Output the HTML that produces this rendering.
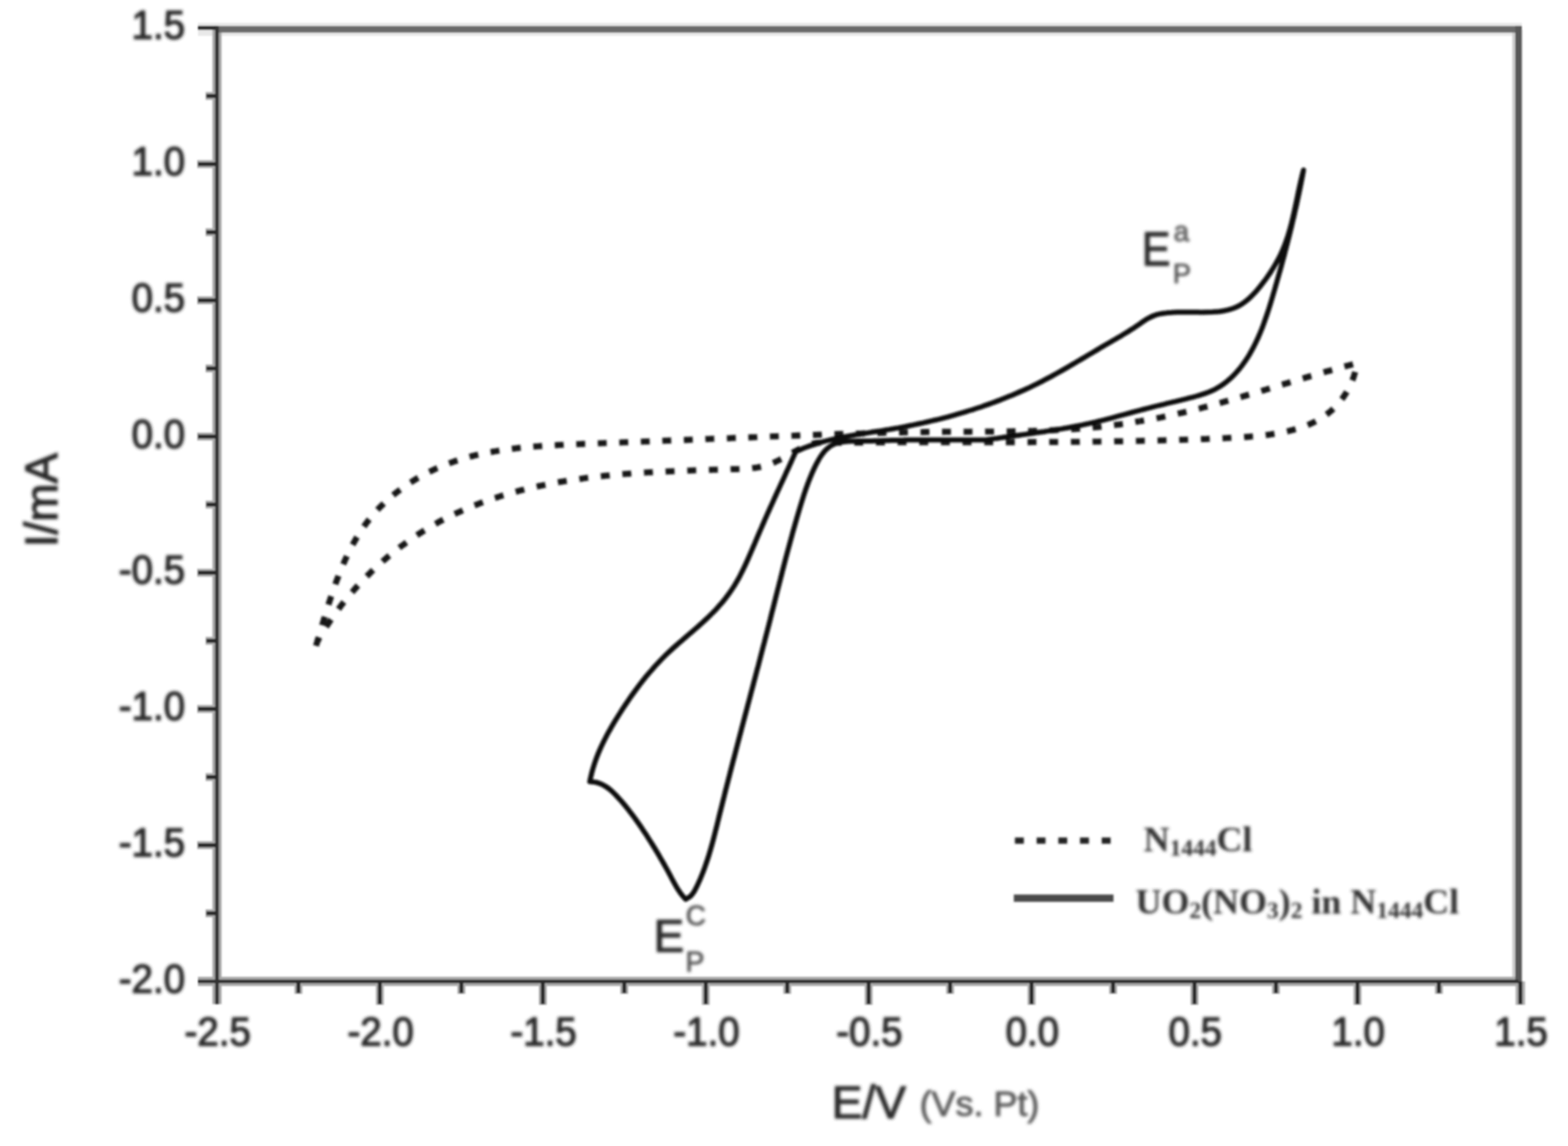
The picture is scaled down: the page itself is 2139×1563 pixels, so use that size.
<!DOCTYPE html>
<html lang="en">
<head>
<meta charset="utf-8">
<title>Cyclic voltammogram</title>
<style>
html,body{margin:0;padding:0;background:#fff;}
body{width:2139px;height:1563px;overflow:hidden;}
svg{display:block;}
text{font-family:"Liberation Sans",sans-serif;stroke-linejoin:round;}
.tk{font-size:52.5px;fill:#282828;stroke:#282828;stroke-width:1.6;}
.ser{font-family:"Liberation Serif",serif;font-weight:bold;}
</style>
</head>
<body>
<svg width="2139" height="1563" viewBox="0 0 2139 1563">
<defs>
<filter id="ba" filterUnits="userSpaceOnUse" x="0" y="0" width="2139" height="1563"><feGaussianBlur stdDeviation="0.9"/></filter>
<filter id="bc" filterUnits="userSpaceOnUse" x="0" y="0" width="2139" height="1563"><feGaussianBlur stdDeviation="1.8"/></filter>
<filter id="bt" filterUnits="userSpaceOnUse" x="0" y="0" width="2139" height="1563"><feGaussianBlur stdDeviation="2.0"/></filter>
<filter id="bl" filterUnits="userSpaceOnUse" x="0" y="0" width="2139" height="1563"><feGaussianBlur stdDeviation="2.0"/></filter>
</defs>
<rect x="0" y="0" width="2139" height="1563" fill="#fff"/>
<g filter="url(#ba)" fill="none" stroke-linecap="butt">
<line x1="270.0" y1="40.0" x2="2076.0" y2="40.0" stroke="#e9e9e9" stroke-width="18"/>
<line x1="2070.0" y1="40.0" x2="2070.0" y2="1340.5" stroke="#cdcdcd" stroke-width="14"/>
<line x1="2074.0" y1="1338.5" x2="2074.0" y2="1370.5" stroke="#b0b0b0" stroke-width="13"/>
<line x1="296.0" y1="38.0" x2="296.0" y2="1369.5" stroke="#a8a8a8" stroke-width="12.5"/>
<line x1="270.0" y1="1338.5" x2="2071.5" y2="1338.5" stroke="#a8a8a8" stroke-width="12.5"/>
<line x1="407.1" y1="1338.5" x2="407.1" y2="1355.5" stroke="#b0b0b0" stroke-width="11"/>
<line x1="518.2" y1="1338.5" x2="518.2" y2="1370.5" stroke="#b0b0b0" stroke-width="11"/>
<line x1="629.4" y1="1338.5" x2="629.4" y2="1355.5" stroke="#b0b0b0" stroke-width="11"/>
<line x1="740.5" y1="1338.5" x2="740.5" y2="1370.5" stroke="#b0b0b0" stroke-width="11"/>
<line x1="851.6" y1="1338.5" x2="851.6" y2="1355.5" stroke="#b0b0b0" stroke-width="11"/>
<line x1="962.8" y1="1338.5" x2="962.8" y2="1370.5" stroke="#b0b0b0" stroke-width="11"/>
<line x1="1073.9" y1="1338.5" x2="1073.9" y2="1355.5" stroke="#b0b0b0" stroke-width="11"/>
<line x1="1185.0" y1="1338.5" x2="1185.0" y2="1370.5" stroke="#b0b0b0" stroke-width="11"/>
<line x1="1296.1" y1="1338.5" x2="1296.1" y2="1355.5" stroke="#b0b0b0" stroke-width="11"/>
<line x1="1407.2" y1="1338.5" x2="1407.2" y2="1370.5" stroke="#b0b0b0" stroke-width="11"/>
<line x1="1518.4" y1="1338.5" x2="1518.4" y2="1355.5" stroke="#b0b0b0" stroke-width="11"/>
<line x1="1629.5" y1="1338.5" x2="1629.5" y2="1370.5" stroke="#b0b0b0" stroke-width="11"/>
<line x1="1740.6" y1="1338.5" x2="1740.6" y2="1355.5" stroke="#b0b0b0" stroke-width="11"/>
<line x1="1851.8" y1="1338.5" x2="1851.8" y2="1370.5" stroke="#b0b0b0" stroke-width="11"/>
<line x1="1962.9" y1="1338.5" x2="1962.9" y2="1355.5" stroke="#b0b0b0" stroke-width="11"/>
<line x1="280.5" y1="130.9" x2="296.0" y2="130.9" stroke="#b0b0b0" stroke-width="11"/>
<line x1="269.0" y1="223.8" x2="296.0" y2="223.8" stroke="#b0b0b0" stroke-width="11"/>
<line x1="280.5" y1="316.7" x2="296.0" y2="316.7" stroke="#b0b0b0" stroke-width="11"/>
<line x1="269.0" y1="409.6" x2="296.0" y2="409.6" stroke="#b0b0b0" stroke-width="11"/>
<line x1="280.5" y1="502.5" x2="296.0" y2="502.5" stroke="#b0b0b0" stroke-width="11"/>
<line x1="269.0" y1="595.4" x2="296.0" y2="595.4" stroke="#b0b0b0" stroke-width="11"/>
<line x1="280.5" y1="688.2" x2="296.0" y2="688.2" stroke="#b0b0b0" stroke-width="11"/>
<line x1="269.0" y1="781.1" x2="296.0" y2="781.1" stroke="#b0b0b0" stroke-width="11"/>
<line x1="280.5" y1="874.0" x2="296.0" y2="874.0" stroke="#b0b0b0" stroke-width="11"/>
<line x1="269.0" y1="966.9" x2="296.0" y2="966.9" stroke="#b0b0b0" stroke-width="11"/>
<line x1="280.5" y1="1059.8" x2="296.0" y2="1059.8" stroke="#b0b0b0" stroke-width="11"/>
<line x1="269.0" y1="1152.7" x2="296.0" y2="1152.7" stroke="#b0b0b0" stroke-width="11"/>
<line x1="280.5" y1="1245.6" x2="296.0" y2="1245.6" stroke="#b0b0b0" stroke-width="11"/>
<line x1="296.0" y1="40.0" x2="2076.0" y2="40.0" stroke="#6a6a6a" stroke-width="9"/>
<line x1="270.0" y1="38.0" x2="296.0" y2="38.0" stroke="#2a2a2a" stroke-width="5.5"/>
<line x1="2071.5" y1="35.5" x2="2071.5" y2="1341.0" stroke="#585858" stroke-width="9"/>
<line x1="2074.0" y1="1338.5" x2="2074.0" y2="1369.5" stroke="#2a2a2a" stroke-width="5.5"/>
<line x1="296.0" y1="35.5" x2="296.0" y2="1369.5" stroke="#303030" stroke-width="5"/>
<line x1="270.0" y1="1338.5" x2="2071.5" y2="1338.5" stroke="#303030" stroke-width="5"/>
<line x1="407.1" y1="1338.5" x2="407.1" y2="1354.5" stroke="#2a2a2a" stroke-width="5.5"/>
<line x1="518.2" y1="1338.5" x2="518.2" y2="1369.5" stroke="#2a2a2a" stroke-width="5.5"/>
<line x1="629.4" y1="1338.5" x2="629.4" y2="1354.5" stroke="#2a2a2a" stroke-width="5.5"/>
<line x1="740.5" y1="1338.5" x2="740.5" y2="1369.5" stroke="#2a2a2a" stroke-width="5.5"/>
<line x1="851.6" y1="1338.5" x2="851.6" y2="1354.5" stroke="#2a2a2a" stroke-width="5.5"/>
<line x1="962.8" y1="1338.5" x2="962.8" y2="1369.5" stroke="#2a2a2a" stroke-width="5.5"/>
<line x1="1073.9" y1="1338.5" x2="1073.9" y2="1354.5" stroke="#2a2a2a" stroke-width="5.5"/>
<line x1="1185.0" y1="1338.5" x2="1185.0" y2="1369.5" stroke="#2a2a2a" stroke-width="5.5"/>
<line x1="1296.1" y1="1338.5" x2="1296.1" y2="1354.5" stroke="#2a2a2a" stroke-width="5.5"/>
<line x1="1407.2" y1="1338.5" x2="1407.2" y2="1369.5" stroke="#2a2a2a" stroke-width="5.5"/>
<line x1="1518.4" y1="1338.5" x2="1518.4" y2="1354.5" stroke="#2a2a2a" stroke-width="5.5"/>
<line x1="1629.5" y1="1338.5" x2="1629.5" y2="1369.5" stroke="#2a2a2a" stroke-width="5.5"/>
<line x1="1740.6" y1="1338.5" x2="1740.6" y2="1354.5" stroke="#2a2a2a" stroke-width="5.5"/>
<line x1="1851.8" y1="1338.5" x2="1851.8" y2="1369.5" stroke="#2a2a2a" stroke-width="5.5"/>
<line x1="1962.9" y1="1338.5" x2="1962.9" y2="1354.5" stroke="#2a2a2a" stroke-width="5.5"/>
<line x1="281.5" y1="130.9" x2="296.0" y2="130.9" stroke="#2a2a2a" stroke-width="5.5"/>
<line x1="270.0" y1="223.8" x2="296.0" y2="223.8" stroke="#2a2a2a" stroke-width="5.5"/>
<line x1="281.5" y1="316.7" x2="296.0" y2="316.7" stroke="#2a2a2a" stroke-width="5.5"/>
<line x1="270.0" y1="409.6" x2="296.0" y2="409.6" stroke="#2a2a2a" stroke-width="5.5"/>
<line x1="281.5" y1="502.5" x2="296.0" y2="502.5" stroke="#2a2a2a" stroke-width="5.5"/>
<line x1="270.0" y1="595.4" x2="296.0" y2="595.4" stroke="#2a2a2a" stroke-width="5.5"/>
<line x1="281.5" y1="688.2" x2="296.0" y2="688.2" stroke="#2a2a2a" stroke-width="5.5"/>
<line x1="270.0" y1="781.1" x2="296.0" y2="781.1" stroke="#2a2a2a" stroke-width="5.5"/>
<line x1="281.5" y1="874.0" x2="296.0" y2="874.0" stroke="#2a2a2a" stroke-width="5.5"/>
<line x1="270.0" y1="966.9" x2="296.0" y2="966.9" stroke="#2a2a2a" stroke-width="5.5"/>
<line x1="281.5" y1="1059.8" x2="296.0" y2="1059.8" stroke="#2a2a2a" stroke-width="5.5"/>
<line x1="270.0" y1="1152.7" x2="296.0" y2="1152.7" stroke="#2a2a2a" stroke-width="5.5"/>
<line x1="281.5" y1="1245.6" x2="296.0" y2="1245.6" stroke="#2a2a2a" stroke-width="5.5"/>
</g>
<g filter="url(#bc)" fill="none" stroke-linejoin="round" stroke-linecap="butt">
<path d="M431.1 880.9 L432.8 875.1C433.2 873.9 434.3 870.2 435.0 867.7C435.8 865.2 436.5 862.7 437.3 860.2C438.0 857.7 438.8 855.2 439.5 852.7C440.3 850.1 441.0 847.6 441.8 845.0C442.6 842.5 443.3 839.9 444.1 837.3C444.9 834.8 445.7 832.2 446.5 829.6C447.3 827.0 448.2 824.4 449.0 821.8C449.8 819.2 450.7 816.7 451.5 814.1C452.4 811.5 453.3 808.9 454.1 806.3C455.0 803.7 455.9 801.1 456.9 798.5C457.8 796.0 458.7 793.4 459.7 790.8C460.7 788.2 461.6 785.7 462.6 783.1C463.6 780.6 464.7 778.0 465.7 775.5C466.8 773.0 467.8 770.5 468.9 768.0C470.0 765.5 471.1 763.0 472.3 760.5C473.4 758.0 474.6 755.6 475.8 753.2C477.0 750.7 478.3 748.3 479.5 745.9C480.8 743.5 482.1 741.1 483.4 738.8C484.7 736.5 486.1 734.1 487.5 731.8C488.9 729.5 490.3 727.3 491.7 725.0C493.2 722.8 494.7 720.6 496.2 718.4C497.8 716.2 499.3 714.1 500.9 712.0C502.5 709.9 504.2 707.8 505.9 705.7C507.5 703.7 509.3 701.7 511.0 699.7C512.8 697.7 514.6 695.8 516.4 693.8C518.2 691.9 520.1 690.0 522.0 688.2C523.8 686.4 525.8 684.5 527.7 682.8C529.7 681.0 531.7 679.2 533.7 677.5C535.7 675.8 537.7 674.1 539.8 672.5C541.9 670.8 544.0 669.2 546.1 667.7C548.2 666.1 550.4 664.5 552.5 663.0C554.7 661.5 556.9 660.0 559.1 658.6C561.4 657.2 563.6 655.8 565.9 654.4C568.2 653.0 570.4 651.7 572.8 650.4C575.1 649.1 577.4 647.8 579.8 646.5C582.1 645.3 584.5 644.1 586.9 642.9C589.3 641.8 591.7 640.6 594.1 639.5C596.5 638.4 599.0 637.4 601.4 636.3C603.9 635.3 606.3 634.3 608.8 633.3C611.3 632.4 613.8 631.5 616.3 630.6C618.8 629.7 621.3 628.8 623.9 628.0C626.4 627.2 628.9 626.4 631.5 625.6C634.0 624.8 636.6 624.1 639.2 623.4C641.7 622.7 644.3 622.0 646.9 621.4C649.5 620.8 652.1 620.1 654.7 619.6C657.3 619.0 659.9 618.4 662.5 617.9C665.2 617.3 667.8 616.8 670.4 616.4C673.1 615.9 675.7 615.4 678.4 615.0C681.0 614.5 683.7 614.1 686.3 613.7C689.0 613.3 691.7 613.0 694.3 612.6C697.0 612.3 699.7 611.9 702.4 611.6C705.1 611.3 707.8 611.0 710.4 610.7C713.1 610.4 715.8 610.2 718.5 609.9C721.2 609.7 723.9 609.4 726.6 609.2C729.3 609.0 732.1 608.8 734.8 608.6C737.5 608.4 740.2 608.2 742.9 608.0C745.6 607.8 748.3 607.7 751.0 607.5C753.7 607.3 756.5 607.2 759.2 607.1C761.9 606.9 764.6 606.8 767.3 606.7C770.0 606.5 772.8 606.4 775.5 606.3C778.2 606.2 780.9 606.0 783.6 605.9C786.3 605.8 789.0 605.7 791.7 605.6C794.4 605.5 797.1 605.4 799.8 605.3C802.5 605.2 805.2 605.1 807.9 604.9C810.6 604.8 813.3 604.7 816.0 604.6C818.7 604.5 821.4 604.4 824.0 604.3C826.7 604.2 829.4 604.1 832.1 604.0C834.8 603.9 837.5 603.8 840.1 603.7C842.8 603.6 845.5 603.5 848.2 603.4C850.8 603.3 853.5 603.2 856.2 603.1C858.9 603.0 861.5 602.9 864.2 602.8C866.9 602.7 869.5 602.6 872.2 602.5C874.9 602.4 877.5 602.3 880.2 602.2C882.9 602.1 885.5 602.0 888.2 601.8C890.9 601.7 893.5 601.6 896.2 601.5C898.9 601.4 901.5 601.3 904.2 601.2C906.8 601.1 909.5 601.0 912.2 600.9C914.8 600.8 917.5 600.7 920.2 600.6C922.8 600.5 925.5 600.4 928.1 600.3C930.8 600.2 933.5 600.1 936.1 600.0C938.8 599.9 941.5 599.8 944.1 599.7C946.8 599.6 949.5 599.5 952.1 599.4C954.8 599.3 957.5 599.2 960.1 599.1C962.8 598.9 965.5 598.8 968.1 598.7C970.8 598.6 973.5 598.5 976.2 598.4C978.8 598.3 981.5 598.2 984.2 598.1C986.8 598.0 989.5 597.9 992.2 597.8C994.9 597.7 997.5 597.5 1000.2 597.4C1002.9 597.3 1005.6 597.2 1008.2 597.1C1010.9 597.0 1013.6 596.9 1016.3 596.8C1018.9 596.7 1021.6 596.6 1024.3 596.5C1027.0 596.4 1029.7 596.3 1032.3 596.2C1035.0 596.0 1037.7 595.9 1040.4 595.8C1043.0 595.7 1045.7 595.6 1048.4 595.5C1051.1 595.4 1053.8 595.3 1056.4 595.2C1059.1 595.1 1061.8 595.0 1064.5 594.9C1067.2 594.8 1069.8 594.7 1072.5 594.6C1075.2 594.5 1077.9 594.4 1080.6 594.3C1083.3 594.2 1085.9 594.1 1088.6 594.0C1091.3 593.9 1094.0 593.8 1096.7 593.7C1099.4 593.6 1102.0 593.5 1104.7 593.4C1107.4 593.3 1110.1 593.2 1112.8 593.1C1115.5 593.0 1118.1 592.9 1120.8 592.8C1123.5 592.7 1126.2 592.6 1128.9 592.6C1131.6 592.5 1134.3 592.4 1136.9 592.3C1139.6 592.2 1142.3 592.1 1145.0 592.0C1147.7 591.9 1150.4 591.9 1153.1 591.8C1155.7 591.7 1158.4 591.6 1161.1 591.5C1163.8 591.4 1166.5 591.4 1169.2 591.3C1171.9 591.2 1174.5 591.1 1177.2 591.1C1179.9 591.0 1182.6 590.9 1185.3 590.8C1188.0 590.8 1190.7 590.7 1193.3 590.6C1196.0 590.6 1198.7 590.5 1201.4 590.4C1204.1 590.4 1206.8 590.3 1209.5 590.2C1212.1 590.2 1214.8 590.1 1217.5 590.0C1220.2 590.0 1222.9 589.9 1225.6 589.9C1228.3 589.8 1230.9 589.8 1233.6 589.7C1236.3 589.7 1239.0 589.6 1241.7 589.6C1244.4 589.5 1247.1 589.5 1249.7 589.4C1252.4 589.4 1255.1 589.3 1257.8 589.3C1260.5 589.3 1263.2 589.2 1265.9 589.2C1268.5 589.2 1271.2 589.1 1273.9 589.1C1276.6 589.1 1279.3 589.0 1282.0 589.0C1284.6 589.0 1287.3 589.0 1290.0 588.9C1292.7 588.9 1295.4 588.9 1298.1 588.9C1300.7 588.9 1303.4 588.8 1306.1 588.8C1308.8 588.8 1311.5 588.8 1314.1 588.8C1316.8 588.8 1319.5 588.8 1322.2 588.8C1324.9 588.7 1327.5 588.7 1330.2 588.7C1332.9 588.7 1335.6 588.7 1338.3 588.7C1340.9 588.7 1343.6 588.7 1346.3 588.6C1349.0 588.6 1351.7 588.6 1354.3 588.6C1357.0 588.6 1359.7 588.5 1362.4 588.5C1365.1 588.5 1367.7 588.5 1370.4 588.4C1373.1 588.4 1375.8 588.4 1378.4 588.3C1381.1 588.3 1383.8 588.3 1386.5 588.2C1389.1 588.2 1391.8 588.1 1394.5 588.1C1397.2 588.0 1399.8 588.0 1402.5 587.9C1405.2 587.8 1407.9 587.8 1410.5 587.7C1413.2 587.6 1415.9 587.5 1418.6 587.4C1421.2 587.3 1423.9 587.3 1426.6 587.2C1429.3 587.0 1431.9 586.9 1434.6 586.8C1437.3 586.7 1439.9 586.6 1442.6 586.4C1445.3 586.3 1448.0 586.2 1450.6 586.0C1453.3 585.9 1456.0 585.7 1458.6 585.5C1461.3 585.4 1464.0 585.2 1466.6 585.0C1469.3 584.8 1472.0 584.6 1474.7 584.4C1477.3 584.2 1480.0 584.0 1482.7 583.8C1485.3 583.5 1488.0 583.3 1490.7 583.0C1493.3 582.8 1496.0 582.5 1498.7 582.3C1501.3 582.0 1504.0 581.7 1506.7 581.4C1509.3 581.1 1512.0 580.8 1514.7 580.5C1517.3 580.1 1520.0 579.8 1522.6 579.4C1525.3 579.1 1528.0 578.7 1530.6 578.3C1533.3 578.0 1536.0 577.6 1538.6 577.1C1541.3 576.7 1544.0 576.3 1546.6 575.9C1549.3 575.4 1553.3 574.7 1554.6 574.5" stroke="#141414" stroke-width="8.3" stroke-dasharray="12.20 17.17"/>
<path d="M1554.6 574.5C1555.9 574.3 1559.9 573.6 1562.6 573.2C1565.3 572.7 1567.9 572.2 1570.6 571.8C1573.2 571.3 1575.9 570.8 1578.5 570.3C1581.2 569.7 1583.8 569.2 1586.4 568.7C1589.1 568.1 1591.7 567.6 1594.3 567.0C1597.0 566.5 1599.6 565.9 1602.2 565.3C1604.9 564.7 1607.5 564.1 1610.1 563.5C1612.7 562.9 1615.4 562.3 1618.0 561.7C1620.6 561.1 1623.2 560.4 1625.8 559.8C1628.4 559.2 1631.0 558.5 1633.7 557.8C1636.3 557.2 1638.9 556.5 1641.5 555.8C1644.1 555.1 1646.7 554.5 1649.3 553.8C1651.9 553.1 1654.5 552.4 1657.1 551.7C1659.7 551.0 1662.3 550.2 1664.9 549.5C1667.5 548.8 1670.0 548.1 1672.6 547.3C1675.2 546.6 1677.8 545.9 1680.4 545.1C1683.0 544.4 1685.6 543.6 1688.2 542.9C1690.8 542.1 1693.3 541.4 1695.9 540.6C1698.5 539.9 1701.1 539.1 1703.7 538.3C1706.2 537.6 1708.8 536.8 1711.4 536.0C1714.0 535.3 1716.6 534.5 1719.1 533.7C1721.7 532.9 1724.3 532.1 1726.9 531.4C1729.5 530.6 1732.0 529.8 1734.6 529.0C1737.2 528.2 1739.8 527.5 1742.4 526.7C1744.9 525.9 1747.5 525.1 1750.1 524.3C1752.7 523.6 1755.2 522.8 1757.8 522.0C1760.4 521.2 1763.0 520.4 1765.6 519.7C1768.1 518.9 1770.7 518.1 1773.3 517.3C1775.9 516.6 1778.4 515.8 1781.0 515.0C1783.6 514.3 1786.2 513.5 1788.8 512.7C1791.4 512.0 1793.9 511.2 1796.5 510.5C1799.1 509.7 1801.7 509.0 1804.3 508.2C1806.9 507.5 1809.5 506.7 1812.0 506.0C1814.6 505.3 1817.2 504.5 1819.8 503.8C1822.4 503.1 1825.0 502.4 1827.6 501.7C1830.2 501.0 1832.8 500.3 1835.4 499.6C1838.0 498.9 1840.6 498.2 1843.2 497.5C1845.8 496.8 1849.7 495.8 1851.0 495.5C1850.8 496.9 1850.1 501.0 1849.5 503.6C1848.9 506.3 1848.2 508.9 1847.4 511.5C1846.6 514.1 1845.7 516.7 1844.7 519.2C1843.7 521.7 1842.7 524.2 1841.5 526.6C1840.3 529.0 1839.0 531.4 1837.7 533.7C1836.4 536.0 1834.9 538.2 1833.4 540.4C1831.9 542.6 1830.3 544.8 1828.7 546.8C1827.0 548.9 1825.3 550.9 1823.5 552.8C1821.7 554.8 1819.8 556.6 1817.9 558.4C1816.0 560.2 1814.0 561.9 1811.9 563.6C1809.9 565.2 1807.7 566.8 1805.6 568.3C1803.4 569.7 1801.2 571.1 1798.9 572.5C1796.7 573.8 1794.3 575.0 1792.0 576.1C1789.6 577.3 1787.2 578.4 1784.8 579.4C1782.4 580.4 1779.9 581.3 1777.4 582.2C1774.9 583.1 1772.4 583.9 1769.9 584.7C1767.3 585.4 1764.8 586.1 1762.2 586.8C1759.6 587.5 1757.1 588.1 1754.5 588.7C1751.9 589.3 1749.3 589.8 1746.7 590.3C1744.1 590.8 1741.4 591.3 1738.8 591.7C1736.2 592.1 1733.6 592.5 1730.9 592.9C1728.3 593.2 1725.6 593.6 1723.0 593.9C1720.3 594.2 1717.7 594.5 1715.0 594.7C1712.3 595.0 1709.7 595.2 1707.0 595.4C1704.3 595.7 1701.7 595.9 1699.0 596.0C1696.3 596.2 1693.6 596.4 1690.9 596.6C1688.3 596.7 1685.6 596.9 1682.9 597.0C1680.2 597.1 1677.5 597.3 1674.8 597.4C1672.2 597.5 1669.5 597.6 1666.8 597.8C1664.1 597.9 1661.4 598.0 1658.7 598.1C1656.1 598.2 1653.4 598.3 1650.7 598.4C1648.0 598.6 1645.3 598.7 1642.6 598.8C1640.0 598.9 1637.3 599.0 1634.6 599.1C1631.9 599.2 1629.2 599.3 1626.6 599.4C1623.9 599.5 1621.2 599.5 1618.5 599.6C1615.9 599.7 1613.2 599.8 1610.5 599.9C1607.8 600.0 1605.1 600.1 1602.5 600.1C1599.8 600.2 1597.1 600.3 1594.4 600.4C1591.8 600.4 1589.1 600.5 1586.4 600.6C1583.7 600.7 1581.1 600.7 1578.4 600.8C1575.7 600.9 1573.0 600.9 1570.4 601.0C1567.7 601.1 1565.0 601.1 1562.3 601.2C1559.7 601.2 1557.0 601.3 1554.3 601.4C1551.7 601.4 1549.0 601.5 1546.3 601.5C1543.6 601.6 1541.0 601.6 1538.3 601.7C1535.6 601.7 1533.0 601.8 1530.3 601.8C1527.6 601.9 1524.9 601.9 1522.3 601.9C1519.6 602.0 1516.9 602.0 1514.3 602.1C1511.6 602.1 1508.9 602.1 1506.3 602.2C1503.6 602.2 1500.9 602.2 1498.3 602.3C1495.6 602.3 1492.9 602.3 1490.3 602.4C1487.6 602.4 1484.9 602.4 1482.2 602.5C1479.6 602.5 1476.9 602.5 1474.2 602.5C1471.6 602.6 1468.9 602.6 1466.2 602.6C1463.6 602.6 1460.9 602.7 1458.2 602.7C1455.6 602.7 1452.9 602.7 1450.2 602.7C1447.6 602.8 1444.9 602.8 1442.2 602.8C1439.6 602.8 1436.9 602.8 1434.2 602.8C1431.6 602.8 1428.9 602.9 1426.3 602.9C1423.6 602.9 1420.9 602.9 1418.3 602.9C1415.6 602.9 1412.9 602.9 1410.3 602.9C1407.6 603.0 1404.9 603.0 1402.3 603.0C1399.6 603.0 1396.9 603.0 1394.3 603.0C1391.6 603.0 1388.9 603.0 1386.3 603.0C1383.6 603.0 1380.9 603.0 1378.3 603.0C1375.6 603.0 1372.9 603.0 1370.3 603.0C1367.6 603.0 1365.0 603.1 1362.3 603.1C1359.6 603.1 1357.0 603.1 1354.3 603.1C1351.6 603.1 1349.0 603.1 1346.3 603.1C1343.6 603.1 1341.0 603.1 1338.3 603.1C1335.6 603.1 1333.0 603.1 1330.3 603.1C1327.6 603.1 1325.0 603.1 1322.3 603.1C1319.6 603.1 1317.0 603.1 1314.3 603.1C1311.6 603.1 1309.0 603.1 1306.3 603.1C1303.6 603.1 1301.0 603.1 1298.3 603.1C1295.6 603.1 1293.0 603.1 1290.3 603.1C1287.6 603.1 1285.0 603.1 1282.3 603.1C1279.6 603.1 1277.0 603.1 1274.3 603.1C1271.6 603.1 1269.0 603.1 1266.3 603.1C1263.6 603.1 1261.0 603.1 1258.3 603.1C1255.6 603.2 1253.0 603.2 1250.3 603.2C1247.6 603.2 1245.0 603.2 1242.3 603.2C1239.6 603.2 1237.0 603.2 1234.3 603.2C1231.6 603.2 1228.9 603.2 1226.3 603.2C1223.6 603.2 1220.9 603.3 1218.3 603.3C1215.6 603.3 1212.9 603.3 1210.2 603.3C1207.6 603.3 1204.9 603.3 1202.2 603.3C1199.6 603.4 1196.9 603.4 1194.2 603.4C1191.5 603.4 1188.9 603.4 1186.2 603.4C1183.5 603.5 1180.9 603.5 1178.2 603.5C1175.5 603.5 1172.8 603.5 1170.2 603.6C1167.5 603.6 1164.8 603.6 1162.1 603.6C1159.5 603.7 1156.8 603.7 1154.1 603.7C1151.4 603.7 1148.7 603.8 1146.1 603.8C1143.4 603.8 1140.7 603.9 1138.0 603.9C1135.4 603.9 1131.3 604.0 1130.0 604.0" stroke="#141414" stroke-width="8.3" stroke-dasharray="12.20 17.35" stroke-dashoffset="6.10"/>
<path d="M432.8 875.1C433.5 873.9 435.4 870.5 436.8 868.2C438.1 865.9 439.5 863.6 440.9 861.4C442.3 859.1 443.7 856.8 445.2 854.6C446.6 852.4 448.1 850.1 449.6 847.9C451.0 845.7 452.6 843.5 454.1 841.3C455.6 839.2 457.2 837.0 458.7 834.8C460.3 832.7 461.9 830.5 463.5 828.4C465.1 826.3 466.8 824.2 468.4 822.1C470.1 820.0 471.7 817.9 473.4 815.8C475.1 813.8 476.8 811.7 478.6 809.7C480.3 807.7 482.1 805.6 483.8 803.6C485.6 801.6 487.4 799.7 489.2 797.7C491.0 795.7 492.8 793.8 494.7 791.8C496.5 789.9 498.4 788.0 500.3 786.1C502.2 784.2 504.1 782.3 506.0 780.4C507.9 778.6 509.8 776.7 511.8 774.9C513.7 773.1 515.7 771.3 517.7 769.5C519.7 767.7 521.7 765.9 523.7 764.1C525.7 762.4 527.8 760.7 529.8 758.9C531.9 757.2 533.9 755.5 536.0 753.9C538.1 752.2 540.2 750.5 542.3 748.9C544.4 747.2 546.5 745.6 548.7 744.0C550.8 742.4 553.0 740.9 555.2 739.3C557.3 737.7 559.5 736.2 561.7 734.7C563.9 733.2 566.1 731.7 568.4 730.2C570.6 728.7 572.8 727.3 575.1 725.9C577.3 724.4 579.6 723.0 581.9 721.6C584.1 720.3 586.4 718.9 588.7 717.6C591.0 716.2 593.4 714.9 595.7 713.6C598.0 712.3 600.3 711.0 602.7 709.8C605.0 708.5 607.4 707.3 609.8 706.1C612.2 704.9 614.5 703.7 616.9 702.6C619.3 701.4 621.7 700.3 624.1 699.2C626.6 698.1 629.0 697.0 631.4 695.9C633.9 694.8 636.3 693.8 638.8 692.8C641.2 691.7 643.7 690.7 646.1 689.7C648.6 688.8 651.1 687.8 653.6 686.8C656.1 685.9 658.6 685.0 661.1 684.1C663.6 683.2 666.1 682.3 668.6 681.4C671.1 680.5 673.7 679.7 676.2 678.9C678.7 678.0 681.3 677.2 683.8 676.4C686.4 675.6 688.9 674.9 691.5 674.1C694.1 673.4 696.6 672.6 699.2 671.9C701.8 671.2 704.4 670.5 706.9 669.8C709.5 669.1 712.1 668.4 714.7 667.8C717.3 667.1 719.9 666.5 722.5 665.9C725.1 665.3 727.7 664.7 730.3 664.1C732.9 663.5 735.6 662.9 738.2 662.4C740.8 661.8 743.4 661.3 746.1 660.7C748.7 660.2 751.3 659.7 754.0 659.2C756.6 658.7 759.2 658.2 761.9 657.7C764.5 657.3 767.1 656.8 769.8 656.4C772.4 655.9 775.1 655.5 777.7 655.1C780.4 654.7 783.0 654.3 785.7 653.9C788.3 653.5 791.0 653.1 793.6 652.8C796.3 652.4 798.9 652.0 801.6 651.7C804.2 651.4 806.9 651.0 809.5 650.7C812.2 650.4 814.8 650.1 817.5 649.8C820.1 649.5 822.8 649.2 825.4 648.9C828.1 648.7 830.8 648.4 833.4 648.1C836.1 647.9 838.7 647.6 841.4 647.4C844.0 647.2 846.7 646.9 849.3 646.7C852.0 646.5 854.7 646.3 857.3 646.1C860.0 645.9 862.6 645.7 865.3 645.5C868.0 645.3 870.6 645.1 873.3 644.9C875.9 644.8 878.6 644.6 881.2 644.4C883.9 644.3 886.6 644.1 889.2 644.0C891.9 643.8 894.5 643.7 897.2 643.6C899.9 643.4 902.5 643.3 905.2 643.2C907.8 643.0 910.5 642.9 913.2 642.8C915.8 642.7 918.5 642.6 921.2 642.5C923.8 642.4 926.5 642.3 929.1 642.1C931.8 642.0 934.5 642.0 937.1 641.9C939.8 641.8 942.5 641.7 945.1 641.6C947.8 641.5 950.4 641.4 953.1 641.3C955.8 641.2 958.4 641.1 961.1 641.1C963.8 641.0 966.4 640.9 969.1 640.8C971.8 640.7 974.4 640.7 977.1 640.6C979.8 640.5 982.4 640.4 985.1 640.3C987.8 640.3 990.4 640.2 993.1 640.1C995.7 640.0 998.4 639.9 1001.1 639.8C1003.7 639.8 1006.4 639.7 1009.1 639.6C1011.7 639.5 1014.4 639.4 1017.0 639.2C1019.7 639.0 1022.3 638.9 1025.0 638.6C1027.6 638.3 1030.2 638.0 1032.8 637.6C1035.4 637.2 1037.9 636.7 1040.5 636.0C1043.0 635.4 1045.5 634.7 1048.0 633.9C1050.5 633.0 1052.9 632.1 1055.4 631.0C1057.8 630.0 1060.2 628.8 1062.6 627.6C1065.0 626.4 1067.4 625.2 1069.7 623.9C1072.1 622.6 1074.5 621.2 1076.8 619.9C1079.2 618.6 1081.6 617.2 1084.0 615.9C1086.3 614.6 1088.7 613.3 1091.1 612.1C1093.5 611.0 1096.0 609.8 1098.4 608.8C1100.9 607.8 1103.4 606.8 1105.9 606.1C1108.4 605.3 1111.0 604.7 1113.6 604.2C1116.2 603.8 1118.9 603.5 1121.6 603.5C1124.4 603.4 1128.6 603.9 1130.0 604.0" stroke="#141414" stroke-width="8.3" stroke-dasharray="12.20 17.35" stroke-dashoffset="6.10"/>
<path d="M1345.0 600.0C1343.7 600.0 1339.7 600.1 1337.1 600.1C1334.4 600.1 1331.8 600.1 1329.1 600.1C1326.4 600.1 1323.8 600.1 1321.1 600.1C1318.4 600.1 1315.7 600.1 1313.0 600.1C1310.3 600.1 1307.6 600.1 1304.9 600.1C1302.2 600.0 1299.5 600.0 1296.8 600.0C1294.1 600.0 1291.4 600.0 1288.7 600.0C1286.0 600.0 1283.3 599.9 1280.6 599.9C1277.9 599.9 1275.2 599.9 1272.5 599.9C1269.8 599.9 1267.1 599.9 1264.4 599.9C1261.7 599.9 1259.0 599.9 1256.3 599.9C1253.6 599.9 1251.0 599.9 1248.3 600.0C1245.6 600.0 1242.9 600.0 1240.3 600.0C1237.6 600.1 1235.0 600.1 1232.3 600.2C1229.7 600.2 1227.1 600.3 1224.5 600.4C1221.8 600.4 1219.2 600.5 1216.6 600.6C1214.0 600.7 1211.4 600.8 1208.7 600.8C1206.1 600.9 1203.5 601.0 1200.8 601.1C1198.2 601.2 1195.5 601.2 1192.8 601.3C1190.1 601.4 1187.4 601.4 1184.7 601.5C1182.0 601.5 1179.2 601.5 1176.4 601.5C1173.6 601.6 1170.7 601.5 1167.9 601.6C1165.1 601.6 1162.2 601.6 1159.4 601.8C1156.6 602.0 1153.8 602.1 1151.1 602.5C1148.4 602.9 1145.7 603.3 1143.2 604.0C1140.7 604.7 1138.3 605.6 1136.0 606.7C1133.8 607.8 1131.7 609.2 1129.8 610.7C1127.8 612.3 1126.0 614.1 1124.3 616.1C1122.6 618.0 1121.1 620.2 1119.6 622.4C1118.1 624.6 1116.8 627.0 1115.5 629.4C1114.1 631.7 1112.9 634.2 1111.7 636.6C1110.5 639.1 1109.4 641.5 1108.3 644.0C1107.2 646.5 1106.2 649.0 1105.2 651.5C1104.1 653.9 1103.2 656.5 1102.2 659.0C1101.3 661.5 1100.4 664.0 1099.5 666.5C1098.6 669.1 1097.8 671.6 1096.9 674.2C1096.1 676.7 1095.3 679.3 1094.5 681.8C1093.7 684.4 1092.9 687.0 1092.1 689.5C1091.3 692.1 1090.6 694.6 1089.8 697.2C1089.0 699.8 1088.3 702.3 1087.5 704.9C1086.8 707.5 1086.0 710.1 1085.3 712.6C1084.5 715.2 1083.8 717.8 1083.1 720.4C1082.3 722.9 1081.6 725.5 1080.9 728.1C1080.2 730.7 1079.5 733.3 1078.8 735.9C1078.1 738.4 1077.4 741.0 1076.7 743.6C1076.0 746.2 1075.3 748.8 1074.6 751.4C1073.9 754.0 1073.2 756.6 1072.5 759.2C1071.8 761.7 1071.2 764.3 1070.5 766.9C1069.8 769.5 1069.1 772.1 1068.5 774.7C1067.8 777.3 1067.1 779.9 1066.5 782.5C1065.8 785.1 1065.1 787.7 1064.5 790.3C1063.8 792.9 1063.1 795.5 1062.5 798.1C1061.8 800.7 1061.2 803.3 1060.5 805.9C1059.8 808.5 1059.2 811.1 1058.5 813.7C1057.9 816.3 1057.2 818.9 1056.6 821.5C1055.9 824.1 1055.3 826.7 1054.6 829.3C1053.9 831.9 1053.3 834.4 1052.6 837.0C1052.0 839.6 1051.3 842.2 1050.7 844.8C1050.0 847.4 1049.3 850.0 1048.7 852.6C1048.0 855.2 1047.3 857.8 1046.7 860.4C1046.0 863.0 1045.3 865.6 1044.7 868.2C1044.0 870.8 1043.3 873.4 1042.7 876.0C1042.0 878.6 1041.3 881.2 1040.6 883.7C1040.0 886.3 1039.3 888.9 1038.6 891.5C1037.9 894.1 1037.3 896.7 1036.6 899.3C1035.9 901.9 1035.2 904.5 1034.6 907.1C1033.9 909.6 1033.2 912.2 1032.5 914.8C1031.8 917.4 1031.2 920.0 1030.5 922.6C1029.8 925.2 1029.1 927.8 1028.4 930.4C1027.8 933.0 1027.1 935.5 1026.4 938.1C1025.7 940.7 1025.0 943.3 1024.3 945.9C1023.7 948.5 1023.0 951.1 1022.3 953.7C1021.6 956.3 1020.9 958.8 1020.2 961.4C1019.6 964.0 1018.9 966.6 1018.2 969.2C1017.5 971.8 1016.8 974.4 1016.1 977.0C1015.5 979.5 1014.8 982.1 1014.1 984.7C1013.4 987.3 1012.7 989.9 1012.0 992.5C1011.4 995.1 1010.7 997.7 1010.0 1000.3C1009.3 1002.9 1008.6 1005.4 1008.0 1008.0C1007.3 1010.6 1006.6 1013.2 1005.9 1015.8C1005.2 1018.4 1004.6 1021.0 1003.9 1023.6C1003.2 1026.2 1002.5 1028.8 1001.9 1031.4C1001.2 1034.0 1000.5 1036.5 999.8 1039.1C999.2 1041.7 998.5 1044.3 997.8 1046.9C997.2 1049.5 996.5 1052.1 995.8 1054.7C995.2 1057.3 994.5 1059.9 993.8 1062.5C993.2 1065.1 992.5 1067.7 991.8 1070.3C991.2 1072.9 990.5 1075.5 989.8 1078.1C989.2 1080.7 988.5 1083.3 987.9 1085.9C987.2 1088.5 986.6 1091.1 985.9 1093.7C985.3 1096.3 984.6 1098.9 984.0 1101.5C983.3 1104.1 982.7 1106.7 982.0 1109.3C981.4 1111.9 980.7 1114.5 980.1 1117.1C979.4 1119.7 978.8 1122.3 978.2 1125.0C977.5 1127.6 976.9 1130.2 976.2 1132.8C975.6 1135.4 974.9 1138.0 974.2 1140.6C973.5 1143.2 972.9 1145.8 972.2 1148.3C971.5 1150.9 970.8 1153.5 970.0 1156.1C969.3 1158.7 968.5 1161.2 967.8 1163.8C967.0 1166.3 966.2 1168.9 965.4 1171.4C964.6 1174.0 963.7 1176.5 962.8 1179.0C962.0 1181.6 961.1 1184.1 960.1 1186.6C959.2 1189.1 958.2 1191.6 957.2 1194.0C956.2 1196.5 955.2 1199.0 954.1 1201.4C953.0 1203.9 951.9 1206.3 950.7 1208.7C949.5 1211.1 948.4 1213.6 947.0 1215.8C945.5 1218.1 944.1 1220.3 942.2 1222.1C940.2 1223.9 936.4 1225.8 935.3 1226.5C934.4 1225.5 931.7 1222.5 930.0 1220.4C928.4 1218.3 926.9 1216.1 925.4 1213.8C923.9 1211.6 922.5 1209.2 921.2 1206.8C919.8 1204.5 918.5 1202.0 917.2 1199.6C915.9 1197.2 914.7 1194.8 913.4 1192.4C912.1 1190.0 910.8 1187.6 909.5 1185.2C908.2 1182.8 906.8 1180.4 905.5 1178.0C904.2 1175.7 902.8 1173.3 901.4 1170.9C900.1 1168.6 898.7 1166.2 897.3 1163.9C895.9 1161.6 894.5 1159.2 893.1 1156.9C891.7 1154.6 890.3 1152.3 888.8 1150.0C887.4 1147.7 885.9 1145.4 884.4 1143.1C883.0 1140.8 881.5 1138.5 880.0 1136.2C878.4 1133.9 876.9 1131.6 875.4 1129.3C873.8 1127.1 872.3 1124.8 870.7 1122.5C869.1 1120.3 867.5 1118.0 865.9 1115.8C864.3 1113.6 862.6 1111.4 860.9 1109.2C859.3 1107.0 857.6 1104.8 855.9 1102.6C854.2 1100.5 852.4 1098.4 850.7 1096.3C848.9 1094.2 847.1 1092.1 845.3 1090.0C843.4 1088.0 841.6 1085.9 839.7 1084.0C837.8 1082.1 835.9 1080.1 833.9 1078.4C831.8 1076.6 829.8 1075.0 827.6 1073.5C825.4 1072.0 823.1 1070.7 820.7 1069.6C818.3 1068.5 815.8 1067.6 813.1 1067.0C810.4 1066.4 806.0 1066.2 804.6 1066.0C804.9 1064.7 805.6 1060.7 806.3 1058.1C806.9 1055.5 807.5 1052.9 808.3 1050.3C809.0 1047.7 809.8 1045.2 810.6 1042.7C811.4 1040.1 812.3 1037.6 813.2 1035.1C814.1 1032.6 815.1 1030.1 816.1 1027.6C817.1 1025.2 818.2 1022.7 819.3 1020.3C820.4 1017.8 821.5 1015.4 822.7 1013.0C823.8 1010.6 825.0 1008.2 826.3 1005.8C827.5 1003.5 828.8 1001.1 830.1 998.7C831.4 996.4 832.7 994.0 834.0 991.7C835.4 989.4 836.7 987.1 838.1 984.8C839.5 982.5 840.9 980.2 842.4 977.9C843.8 975.6 845.2 973.3 846.7 971.1C848.1 968.8 849.6 966.5 851.1 964.3C852.6 962.0 854.0 959.8 855.6 957.6C857.1 955.4 858.6 953.1 860.1 950.9C861.7 948.7 863.2 946.6 864.8 944.4C866.4 942.2 868.0 940.1 869.6 937.9C871.2 935.8 872.8 933.6 874.4 931.5C876.1 929.4 877.8 927.3 879.4 925.2C881.1 923.1 882.8 921.1 884.5 919.0C886.3 917.0 888.0 915.0 889.8 913.0C891.5 910.9 893.3 909.0 895.1 907.0C896.9 905.0 898.7 903.1 900.6 901.1C902.4 899.2 904.3 897.3 906.2 895.4C908.1 893.5 910.0 891.7 912.0 889.8C913.9 888.0 915.9 886.2 917.8 884.4C919.8 882.6 921.8 880.8 923.9 879.0C925.9 877.3 927.9 875.5 929.9 873.8C932.0 872.0 934.0 870.3 936.1 868.5C938.1 866.8 940.1 865.0 942.2 863.3C944.2 861.5 946.3 859.8 948.3 858.0C950.3 856.2 952.4 854.5 954.4 852.7C956.4 850.9 958.4 849.1 960.3 847.3C962.3 845.4 964.3 843.6 966.2 841.7C968.1 839.9 970.0 838.0 971.9 836.1C973.8 834.2 975.7 832.2 977.5 830.3C979.3 828.3 981.1 826.3 982.8 824.3C984.6 822.3 986.3 820.3 988.0 818.2C989.6 816.1 991.3 814.0 992.8 811.9C994.4 809.8 996.0 807.6 997.4 805.4C998.9 803.2 1000.4 801.0 1001.8 798.7C1003.2 796.4 1004.5 794.1 1005.9 791.8C1007.2 789.5 1008.4 787.2 1009.7 784.8C1010.9 782.4 1012.1 780.0 1013.3 777.6C1014.5 775.2 1015.6 772.8 1016.8 770.4C1017.9 768.0 1019.0 765.5 1020.1 763.0C1021.2 760.6 1022.3 758.1 1023.3 755.7C1024.4 753.2 1025.5 750.7 1026.5 748.2C1027.6 745.8 1028.6 743.3 1029.7 740.8C1030.7 738.3 1031.8 735.9 1032.8 733.4C1033.9 730.9 1034.9 728.4 1036.0 726.0C1037.0 723.5 1038.1 721.0 1039.2 718.6C1040.2 716.1 1041.3 713.6 1042.4 711.2C1043.4 708.7 1044.5 706.3 1045.6 703.8C1046.7 701.4 1047.8 698.9 1048.9 696.5C1050.0 694.0 1051.1 691.6 1052.2 689.1C1053.3 686.7 1054.4 684.3 1055.5 681.8C1056.6 679.4 1057.7 677.0 1058.8 674.5C1059.9 672.1 1061.1 669.7 1062.2 667.2C1063.3 664.8 1064.4 662.4 1065.5 659.9C1066.6 657.5 1067.8 655.1 1068.9 652.6C1070.0 650.2 1071.1 647.8 1072.2 645.3C1073.3 642.9 1074.4 640.5 1075.6 638.0C1076.7 635.6 1077.8 633.1 1078.9 630.7C1080.0 628.2 1081.1 625.8 1082.2 623.4C1083.3 620.9 1085.0 617.2 1085.5 616.0C1086.7 615.5 1090.4 613.8 1092.9 612.7C1095.3 611.7 1097.8 610.7 1100.3 609.8C1102.8 608.8 1105.3 607.9 1107.8 607.1C1110.3 606.2 1112.9 605.4 1115.4 604.6C1118.0 603.8 1120.5 603.1 1123.1 602.4C1125.6 601.7 1128.2 601.0 1130.8 600.4C1133.3 599.8 1135.9 599.2 1138.5 598.6C1141.1 598.0 1143.7 597.4 1146.3 596.9C1148.9 596.4 1151.5 595.9 1154.1 595.4C1156.8 594.9 1159.4 594.4 1162.0 593.9C1164.6 593.5 1167.3 593.0 1169.9 592.6C1172.5 592.2 1175.2 591.7 1177.8 591.3C1180.5 590.9 1183.1 590.5 1185.7 590.1C1188.4 589.7 1191.0 589.3 1193.7 588.8C1196.3 588.4 1199.0 588.0 1201.6 587.6C1204.3 587.2 1206.9 586.7 1209.5 586.3C1212.2 585.9 1214.8 585.4 1217.5 585.0C1220.1 584.5 1222.7 584.0 1225.4 583.6C1228.0 583.1 1230.6 582.6 1233.3 582.1C1235.9 581.6 1238.5 581.1 1241.2 580.5C1243.8 580.0 1246.4 579.5 1249.0 578.9C1251.7 578.4 1254.3 577.8 1256.9 577.3C1259.5 576.7 1262.1 576.1 1264.7 575.5C1267.3 574.9 1269.9 574.3 1272.5 573.7C1275.1 573.1 1277.7 572.4 1280.3 571.8C1282.9 571.2 1285.5 570.5 1288.1 569.8C1290.7 569.2 1293.3 568.5 1295.9 567.8C1298.4 567.1 1301.0 566.4 1303.6 565.6C1306.2 564.9 1308.7 564.2 1311.3 563.4C1313.8 562.7 1316.4 561.9 1318.9 561.1C1321.5 560.4 1324.0 559.6 1326.6 558.8C1329.1 558.0 1331.7 557.1 1334.2 556.3C1336.7 555.5 1339.3 554.6 1341.8 553.7C1344.3 552.9 1346.8 552.0 1349.3 551.1C1351.8 550.2 1354.3 549.3 1356.8 548.4C1359.3 547.4 1361.8 546.5 1364.3 545.6C1366.8 544.6 1369.3 543.6 1371.8 542.6C1374.2 541.6 1376.7 540.6 1379.2 539.6C1381.6 538.6 1384.1 537.6 1386.5 536.5C1389.0 535.5 1391.4 534.4 1393.8 533.3C1396.3 532.2 1398.7 531.1 1401.1 530.0C1403.5 528.9 1405.9 527.7 1408.3 526.6C1410.7 525.4 1413.1 524.3 1415.5 523.1C1417.9 521.9 1420.3 520.7 1422.7 519.5C1425.0 518.2 1427.4 517.0 1429.8 515.7C1432.1 514.5 1434.5 513.2 1436.8 511.9C1439.2 510.6 1441.5 509.3 1443.8 508.0C1446.2 506.7 1448.5 505.4 1450.8 504.1C1453.1 502.8 1455.5 501.4 1457.8 500.1C1460.1 498.7 1462.4 497.4 1464.7 496.0C1467.0 494.7 1469.3 493.3 1471.6 492.0C1473.9 490.6 1476.2 489.2 1478.5 487.9C1480.8 486.5 1483.1 485.1 1485.4 483.8C1487.7 482.4 1490.0 481.0 1492.3 479.7C1494.6 478.3 1496.9 476.9 1499.2 475.6C1501.5 474.2 1503.8 472.9 1506.1 471.5C1508.4 470.2 1510.8 468.8 1513.1 467.5C1515.4 466.2 1517.7 464.8 1520.0 463.5C1522.3 462.2 1524.6 460.8 1526.9 459.5C1529.2 458.1 1531.5 456.8 1533.7 455.4C1536.0 454.0 1538.3 452.6 1540.5 451.2C1542.8 449.8 1545.0 448.3 1547.3 446.9C1549.5 445.4 1551.7 443.8 1553.9 442.3C1556.1 440.8 1558.2 439.2 1560.5 437.8C1562.7 436.3 1565.0 434.9 1567.3 433.7C1569.6 432.4 1572.0 431.3 1574.5 430.4C1576.9 429.5 1579.5 428.8 1582.1 428.2C1584.7 427.6 1587.4 427.2 1590.1 426.9C1592.8 426.5 1595.5 426.3 1598.2 426.2C1600.9 426.0 1603.6 425.9 1606.2 425.8C1608.9 425.7 1611.6 425.7 1614.3 425.7C1616.9 425.7 1619.6 425.7 1622.2 425.7C1624.9 425.7 1627.5 425.8 1630.2 425.8C1632.9 425.8 1635.5 425.9 1638.2 425.9C1640.8 425.9 1643.5 425.9 1646.2 425.8C1648.8 425.7 1651.5 425.6 1654.2 425.5C1656.9 425.3 1659.6 425.2 1662.3 424.9C1665.0 424.6 1667.7 424.2 1670.3 423.7C1672.9 423.3 1675.6 422.7 1678.1 421.9C1680.6 421.2 1683.1 420.3 1685.5 419.3C1687.9 418.2 1690.2 417.0 1692.4 415.7C1694.7 414.3 1696.8 412.8 1698.9 411.2C1701.0 409.6 1703.0 407.9 1705.0 406.1C1706.9 404.3 1708.8 402.4 1710.7 400.4C1712.6 398.4 1714.3 396.4 1716.1 394.3C1717.9 392.2 1719.6 390.1 1721.2 387.9C1722.9 385.8 1724.5 383.6 1726.1 381.5C1727.7 379.3 1729.2 377.1 1730.8 374.9C1732.3 372.7 1733.7 370.5 1735.2 368.2C1736.6 366.0 1738.0 363.7 1739.3 361.4C1740.6 359.1 1741.9 356.8 1743.2 354.5C1744.4 352.2 1745.6 349.8 1746.8 347.5C1747.9 345.1 1749.0 342.7 1750.0 340.3C1751.1 337.9 1752.1 335.4 1753.0 332.9C1753.9 330.5 1754.8 328.0 1755.7 325.5C1756.5 323.0 1757.3 320.4 1758.1 317.9C1758.9 315.4 1759.6 312.8 1760.3 310.2C1761.0 307.7 1761.7 305.1 1762.3 302.5C1763.0 299.9 1763.6 297.3 1764.2 294.6C1764.8 292.0 1765.4 289.4 1766.0 286.8C1766.5 284.1 1767.1 281.5 1767.7 278.9C1768.2 276.3 1768.7 273.6 1769.3 271.0C1769.8 268.3 1770.4 265.7 1770.9 263.1C1771.5 260.5 1772.0 257.8 1772.6 255.2C1773.2 252.6 1773.8 250.0 1774.4 247.4C1775.0 244.8 1775.6 242.2 1776.2 239.7C1776.8 237.1 1777.9 233.3 1778.2 232.0C1778.0 233.3 1777.2 237.3 1776.7 240.0C1776.2 242.6 1775.7 245.2 1775.2 247.9C1774.7 250.5 1774.1 253.2 1773.6 255.8C1773.1 258.4 1772.5 261.0 1772.0 263.7C1771.4 266.3 1770.9 268.9 1770.3 271.5C1769.7 274.2 1769.2 276.8 1768.6 279.4C1768.0 282.0 1767.4 284.6 1766.8 287.2C1766.3 289.8 1765.7 292.4 1765.1 295.0C1764.5 297.6 1763.8 300.2 1763.2 302.8C1762.6 305.4 1762.0 308.0 1761.4 310.6C1760.7 313.2 1760.1 315.8 1759.5 318.4C1758.8 321.0 1758.2 323.6 1757.5 326.2C1756.9 328.8 1756.2 331.4 1755.5 334.0C1754.9 336.5 1754.2 339.1 1753.5 341.7C1752.8 344.3 1752.2 346.9 1751.5 349.5C1750.8 352.1 1750.1 354.6 1749.4 357.2C1748.7 359.8 1748.0 362.4 1747.3 365.0C1746.6 367.5 1745.8 370.1 1745.1 372.7C1744.4 375.3 1743.7 377.9 1742.9 380.5C1742.2 383.0 1741.5 385.6 1740.7 388.2C1740.0 390.8 1739.2 393.4 1738.5 396.0C1737.7 398.5 1737.0 401.1 1736.2 403.7C1735.4 406.3 1734.7 408.9 1733.9 411.5C1733.1 414.0 1732.3 416.6 1731.5 419.2C1730.7 421.8 1729.9 424.3 1729.0 426.9C1728.2 429.5 1727.3 432.0 1726.4 434.5C1725.5 437.1 1724.6 439.6 1723.7 442.1C1722.8 444.7 1721.8 447.2 1720.8 449.7C1719.8 452.2 1718.8 454.6 1717.7 457.1C1716.7 459.6 1715.6 462.0 1714.4 464.4C1713.3 466.9 1712.1 469.3 1710.9 471.6C1709.7 474.0 1708.4 476.4 1707.1 478.7C1705.8 481.1 1704.5 483.4 1703.1 485.7C1701.7 487.9 1700.2 490.2 1698.7 492.4C1697.2 494.6 1695.6 496.8 1694.0 499.0C1692.4 501.1 1690.7 503.2 1689.0 505.2C1687.2 507.2 1685.5 509.2 1683.6 511.1C1681.8 513.0 1679.9 514.9 1677.9 516.6C1675.9 518.4 1673.9 520.1 1671.8 521.7C1669.8 523.3 1667.6 524.8 1665.4 526.3C1663.2 527.7 1660.9 529.0 1658.6 530.3C1656.2 531.5 1653.8 532.6 1651.4 533.7C1648.9 534.7 1646.4 535.7 1643.9 536.6C1641.4 537.5 1638.8 538.3 1636.2 539.1C1633.6 539.9 1630.9 540.6 1628.3 541.4C1625.7 542.1 1623.0 542.7 1620.4 543.4C1617.7 544.1 1615.1 544.7 1612.4 545.3C1609.8 546.0 1607.1 546.6 1604.5 547.3C1601.9 547.9 1599.3 548.5 1596.7 549.2C1594.0 549.8 1591.4 550.4 1588.8 551.1C1586.2 551.7 1583.6 552.4 1581.0 553.0C1578.5 553.7 1575.9 554.3 1573.3 554.9C1570.7 555.6 1568.1 556.3 1565.5 556.9C1563.0 557.6 1560.4 558.2 1557.8 558.9C1555.2 559.6 1552.6 560.3 1550.1 560.9C1547.5 561.6 1544.9 562.3 1542.3 563.0C1539.7 563.7 1537.1 564.4 1534.6 565.1C1532.0 565.8 1529.4 566.5 1526.8 567.2C1524.2 567.9 1521.6 568.6 1519.0 569.3C1516.4 570.0 1513.8 570.7 1511.3 571.3C1508.7 572.0 1506.1 572.7 1503.5 573.3C1500.9 574.0 1498.3 574.6 1495.6 575.3C1493.0 575.9 1490.4 576.5 1487.8 577.1C1485.2 577.7 1482.6 578.3 1480.0 578.8C1477.3 579.4 1474.7 579.9 1472.1 580.5C1469.5 581.0 1466.8 581.5 1464.2 582.0C1461.6 582.5 1458.9 583.0 1456.3 583.5C1453.6 583.9 1451.0 584.4 1448.4 584.9C1445.7 585.3 1443.1 585.7 1440.4 586.2C1437.8 586.6 1435.1 587.0 1432.5 587.4C1429.8 587.9 1427.2 588.3 1424.5 588.7C1421.9 589.1 1419.2 589.4 1416.6 589.8C1413.9 590.2 1411.3 590.6 1408.6 591.0C1406.0 591.4 1403.3 591.7 1400.6 592.1C1398.0 592.5 1395.3 592.8 1392.7 593.2C1390.0 593.6 1387.4 593.9 1384.7 594.3C1382.1 594.7 1379.4 595.0 1376.8 595.4C1374.1 595.8 1371.5 596.1 1368.8 596.5C1366.2 596.9 1363.5 597.3 1360.9 597.7C1358.2 598.0 1355.6 598.4 1352.9 598.8C1350.3 599.2 1346.3 599.8 1345.0 600.0" stroke="#111" stroke-width="7"/>
<line x1="1384.5" y1="1146.5" x2="1519" y2="1146.5" stroke="#222" stroke-width="8.3" stroke-dasharray="12.2 17.4"/>
<line x1="1383" y1="1225" x2="1519" y2="1225" stroke="#4a4a4a" stroke-width="10"/>
</g>
<g filter="url(#bt)">
<text class="tk" transform="translate(297.0 1425.5) scale(1 1.045)" text-anchor="middle">-2.5</text>
<text class="tk" transform="translate(519.2 1425.5) scale(1 1.045)" text-anchor="middle">-2.0</text>
<text class="tk" transform="translate(741.5 1425.5) scale(1 1.045)" text-anchor="middle">-1.5</text>
<text class="tk" transform="translate(963.8 1425.5) scale(1 1.045)" text-anchor="middle">-1.0</text>
<text class="tk" transform="translate(1186.0 1425.5) scale(1 1.045)" text-anchor="middle">-0.5</text>
<text class="tk" transform="translate(1408.2 1425.5) scale(1 1.045)" text-anchor="middle">0.0</text>
<text class="tk" transform="translate(1630.5 1425.5) scale(1 1.045)" text-anchor="middle">0.5</text>
<text class="tk" transform="translate(1852.8 1425.5) scale(1 1.045)" text-anchor="middle">1.0</text>
<text class="tk" transform="translate(2075.0 1425.5) scale(1 1.045)" text-anchor="middle">1.5</text>
<text class="tk" transform="translate(252.5 53.3) scale(1 1.045)" text-anchor="end">1.5</text>
<text class="tk" transform="translate(252.5 239.1) scale(1 1.045)" text-anchor="end">1.0</text>
<text class="tk" transform="translate(252.5 424.9) scale(1 1.045)" text-anchor="end">0.5</text>
<text class="tk" transform="translate(252.5 610.7) scale(1 1.045)" text-anchor="end">0.0</text>
<text class="tk" transform="translate(252.5 796.4) scale(1 1.045)" text-anchor="end">-0.5</text>
<text class="tk" transform="translate(252.5 982.2) scale(1 1.045)" text-anchor="end">-1.0</text>
<text class="tk" transform="translate(252.5 1168.0) scale(1 1.045)" text-anchor="end">-1.5</text>
<text class="tk" transform="translate(252.5 1353.8) scale(1 1.045)" text-anchor="end">-2.0</text>
<text x="78" y="682" font-size="62.5" fill="#262626" stroke="#262626" stroke-width="1.6" text-anchor="middle" transform="rotate(-90 78 682)">I/mA</text>
<text x="1134.5" y="1524.5" font-size="63" fill="#2a2a2a" stroke="#2a2a2a" stroke-width="1.5">E/V</text>
<text x="1254.5" y="1522" font-size="49" fill="#5a5a5a" stroke="#5a5a5a" stroke-width="1.2">(Vs. Pt)</text>
<text transform="translate(1557.5 362) scale(0.92 1)" font-size="64" fill="#2a2a2a" stroke="#2a2a2a" stroke-width="1.4">E</text>
<text x="1601" y="328.5" font-size="38" fill="#6a6a6a" stroke="#6a6a6a" stroke-width="1.5">a</text>
<text x="1600" y="386" font-size="37" fill="#555" stroke="#555" stroke-width="1.1">P</text>
<text transform="translate(891.5 1298) scale(0.98 0.97)" font-size="64" fill="#2a2a2a" stroke="#2a2a2a" stroke-width="1.4">E</text>
<text x="935.5" y="1262" font-size="38" fill="#555" stroke="#555" stroke-width="1.1">C</text>
<text x="935" y="1324.5" font-size="39" fill="#555" stroke="#555" stroke-width="1.1">P</text>
</g>
<g filter="url(#bl)">
<text class="ser" x="1560" y="1161" font-size="49" fill="#333">N<tspan font-size="32" dy="6">1444</tspan><tspan dy="-6">Cl</tspan></text>
<text class="ser" x="1549" y="1245.5" font-size="49" fill="#333">UO<tspan font-size="32" dy="6">2</tspan><tspan dy="-6">(NO</tspan><tspan font-size="32" dy="6">3</tspan><tspan dy="-6">)</tspan><tspan font-size="32" dy="6">2</tspan><tspan dy="-6"> in N</tspan><tspan font-size="32" dy="6">1444</tspan><tspan dy="-6">Cl</tspan></text>
</g>
</svg>
</body>
</html>
